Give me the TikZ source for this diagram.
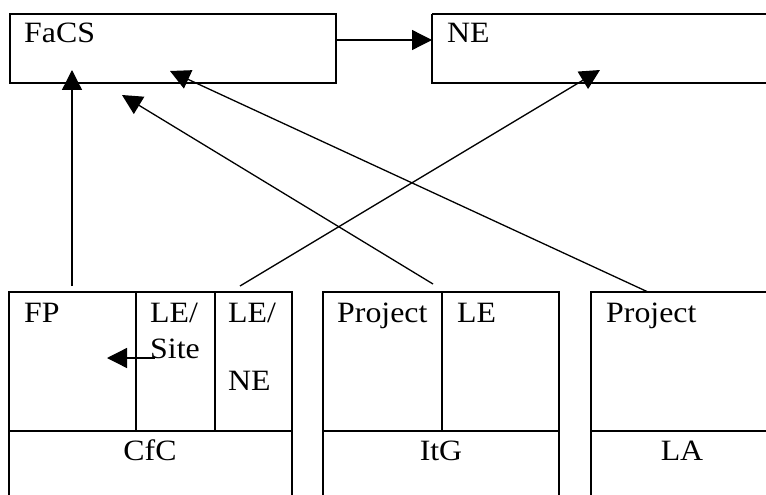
\documentclass[tikz,border=0pt]{standalone}
\usepackage{fontspec}
\setmainfont[FakeStretch=1.08]{Liberation Serif}
\usetikzlibrary{arrows.meta}
\begin{document}
\begin{tikzpicture}[x=1pt,y=-1pt,
  frame/.style={line width=1.7pt},
  link/.style={line width=1.3pt,-{Triangle[length=20pt,width=20pt]}},
  lbl/.style={anchor=base west,inner sep=0pt,font=\fontsize{29.5}{34}\selectfont},
  clbl/.style={anchor=base,inner sep=0pt,font=\fontsize{29.5}{34}\selectfont}]
\useasboundingbox (0,0) rectangle (766,495);

% upper boxes
\draw[frame] (10,14) rectangle (336,83);
\draw[frame] (432,14) -- (780,14) (432,14) -- (432,83) -- (780,83);
\node[lbl] (facs) at (24,43) {FaCS};
\node[lbl] (ne) at (447,43) {NE};

% lower group: CfC
\draw[frame] (9,495) -- (9,292) -- (292,292) -- (292,495);
\draw[frame] (9,431) -- (292,431);
\draw[frame] (136,292) -- (136,431) (215,292) -- (215,431);
\node[lbl] (fp) at (24,322) {FP};
\node[lbl] (les1) at (150,322) {LE/};
\node[lbl] (site) at (150,358) {Site};
\node[lbl] (len1) at (228,322) {LE/};
\node[lbl] (len2) at (228,390) {NE};
\node[clbl] (cfc) at (150,460) {CfC};

% lower group: ItG
\draw[frame] (323,495) -- (323,292) -- (559,292) -- (559,495);
\draw[frame] (323,431) -- (559,431);
\draw[frame] (442,292) -- (442,431);
\node[lbl] (proj1) at (337,322) {Project};
\node[lbl] (le) at (457,322) {LE};
\node[clbl] (itg) at (441,460) {ItG};

% lower group: LA
\draw[frame] (591,495) -- (591,292) -- (780,292);
\draw[frame] (591,431) -- (780,431);
\node[lbl] (proj2) at (606,322) {Project};
\node[clbl] (la) at (682,460) {LA};

% connector end points
\coordinate (facsR) at (336,40);
\coordinate (neL) at (432,40);
\coordinate (fpTop) at (72,286);
\coordinate (facsA) at (72,70);
\coordinate (itgTop) at (433,284);
\coordinate (facsB) at (122,95);
\coordinate (laTop) at (648,292);
\coordinate (facsC) at (170,71);
\coordinate (lenTop) at (240,286);
\coordinate (neB) at (600,70);
\coordinate (siteL) at (155,358);
\coordinate (fpIn) at (107,358);

% connectors
\draw[link] (facsR) -- (neL);
\draw[link] (fpTop) -- (facsA);
\draw[link] (itgTop) -- (facsB);
\draw[link] (laTop) -- (facsC);
\draw[link] (lenTop) -- (neB);
\draw[link] (siteL) -- (fpIn);
\end{tikzpicture}
\end{document}
